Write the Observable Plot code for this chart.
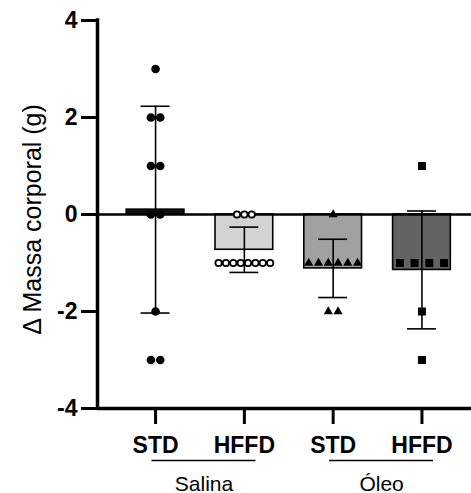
<!DOCTYPE html>
<html><head><meta charset="utf-8">
<script src="https://cdn.jsdelivr.net/npm/d3@7"></script>
<script src="https://cdn.jsdelivr.net/npm/@observablehq/plot@0.6"></script>
<style>body{margin:0;background:#fff}</style>
</head><body><div id="chart"></div>
<script>
// ---- data ----
const categories = ["STD", "HFFD", "STD", "HFFD"];
const treatments = ["Salina", "Salina", "Óleo", "Óleo"];
const salinaSTD = [3, 2, 2, 1, 1, 0, 0, -2, -3, -3];
const salinaHFFD = [0, 0, 0, -1, -1, -1, -1, -1, -1, -1, -1];
const oleoSTD = [0, -1, -1, -1, -1, -1, -1, -2, -2];
const oleoHFFD = [1, -1, -1, -1, -1, -2, -3];
const yTicks = [-4, -2, 0, 2, 4];
const groupNames = ["Salina", "Óleo"];
const yLabel = "Δ Massa corporal (g)";

// ---- styles ----
const series = [salinaSTD, salinaHFFD, oleoSTD, oleoHFFD];
const barFill = ["#111111", "#d3d3d3", "#a1a1a1", "#636363"];
const symbolOf = ["circle", "circle", "triangle", "square"];
const symFill = ["black", "white", "black", "black"];
const symStroke = ["none", "black", "none", "none"];
const symR = [4.3, 3.2, 3.4, 4.5];
const spread = [0.105, 0.083, 0.11, 0.166];
const halfBar = 0.325, halfCap = 0.163;
const xDomain = [-0.654, 3.558];

const summary = series.map((v, i) => ({i, mean: d3.mean(v), sd: d3.deviation(v), fill: barFill[i]}));
const points = [];
series.forEach((vals, i) => {
  const counts = d3.rollup(vals, v => v.length, d => d);
  const seen = new Map();
  vals.forEach(v => {
    const n = counts.get(v), k = seen.get(v) || 0;
    seen.set(v, k + 1);
    points.push({i, v, x: i + (k - (n - 1) / 2) * spread[i]});
  });
});
const groups = groupNames.map(name => {
  const idx = treatments.map((t, i) => t === name ? i : -1).filter(i => i >= 0);
  return {name, x1: d3.min(idx) - 0.04, x2: d3.max(idx) + 0.13};
});

const chart = Plot.plot({
  width: 471, height: 493,
  marginLeft: 97, marginRight: 0, marginTop: 20, marginBottom: 85,
  style: {fontFamily: "'Liberation Sans', Arial, sans-serif", background: "white", color: "black"},
  x: {type: "linear", domain: xDomain, axis: null},
  y: {domain: [-4, 4], axis: null},
  marks: [
    Plot.rectY(summary, {x1: d => d.i - halfBar, x2: d => d.i + halfBar, y1: 0, y2: "mean", fill: "fill", stroke: "black", strokeWidth: 1.6}),
    Plot.ruleY([0], {stroke: "black", strokeWidth: 2.4}),
    Plot.ruleX(summary, {x: "i", y1: d => d.mean - d.sd, y2: d => d.mean + d.sd, stroke: "black", strokeWidth: 1.6}),
    Plot.ruleY(summary, {y: d => d.mean + d.sd, x1: d => d.i - halfCap, x2: d => d.i + halfCap, stroke: "black", strokeWidth: 1.6}),
    Plot.ruleY(summary, {y: d => d.mean - d.sd, x1: d => d.i - halfCap, x2: d => d.i + halfCap, stroke: "black", strokeWidth: 1.6}),
    ...series.map((_, i) => Plot.dot(points.filter(p => p.i === i), {
      x: "x", y: "v", symbol: symbolOf[i], r: symR[i], fill: symFill[i],
      stroke: symStroke[i], strokeWidth: 1.8
    })),
    Plot.axisY(yTicks, {tickSize: 16, tickPadding: 4, strokeWidth: 3, fontSize: 23, fontWeight: "bold", tickFormat: d => String(d), label: null}),
    Plot.ruleX([xDomain[0]], {y1: -4, y2: 4, stroke: "black", strokeWidth: 3.5, strokeLinecap: "square"}),
    Plot.axisX([0, 1, 2, 3], {tickSize: 16, tickPadding: 12, strokeWidth: 3, fontSize: 23, fontWeight: "bold", tickFormat: i => categories[i], label: null}),
    Plot.ruleY([-4], {stroke: "black", strokeWidth: 3.3}),
    Plot.ruleY(groups, {y: -4, x1: "x1", x2: "x2", dy: 52, stroke: "black", strokeWidth: 1.5}),
    Plot.text(groups, {x: d => (d.x1 + d.x2) / 2, y: -4, dy: 82, lineAnchor: "bottom", text: "name", fontSize: 21}),
    Plot.text([yLabel], {frameAnchor: "left", rotate: -90, dx: -65, dy: 5, textAnchor: "middle", text: d => d, fontSize: 25})
  ]
});
document.getElementById("chart").append(chart);
</script>
</body></html>
